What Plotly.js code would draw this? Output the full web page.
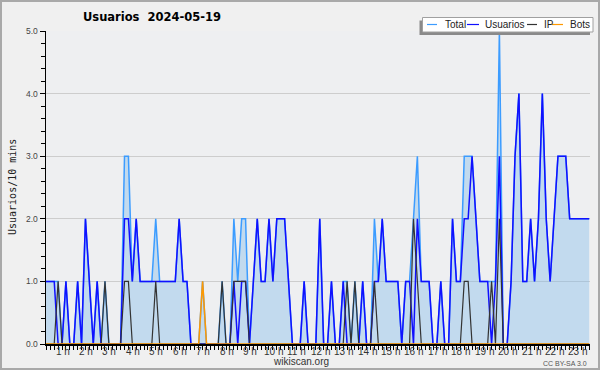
<!DOCTYPE html>
<html><head><meta charset="utf-8">
<script src="https://cdn.plot.ly/plotly-3.0.1.min.js"></script>
<style>
html,body{margin:0;padding:0;background:#f0f0f0;}
#wrap{position:relative;width:600px;height:370px;}
#chart{width:600px;height:370px;}
#frame{position:absolute;left:0;top:0;width:600px;height:370px;box-sizing:border-box;border:2px solid #a9a9a9;pointer-events:none;}
</style>
</head><body><div id="wrap"><div id="chart"></div><div id="frame"></div></div>
<script>
// 10-minute slots of 2024-05-19
const usuarios = [
 1,1,1,1,0,0,1,0,0,1,
 0,2,1,0,1,0,0,0,0,0,
 0,2,2,1,2,1,1,1,1,1,
 1,1,1,1,1,2,1,1,0,0,
 0,0,0,0,0,0,0,0,0,1,
 0,1,1,0,1,2,1,1,2,1,
 2,2,2,1,0,0,0,1,0,0,
 0,2,0,0,1,0,0,1,0,0,
 0,0,1,0,0,1,1,2,1,1,
 1,1,0,1,1,0,2,1,1,1,
 0,0,1,0,0,2,1,1,2,2,
 3,2,1,1,1,0,1,3,0,0,
 1,3,4,1,1,2,1,2,4,2,
 1,2,3,3,3,2,2,2,2,2,
 2];
const ip = [
 0,0,0,0,1,0,0,0,0,0,
 0,0,0,0,0,0,1,0,0,0,
 0,1,1,0,0,0,0,0,0,1,
 0,0,0,0,0,0,0,0,0,0,
 0,0,0,0,0,0,1,0,0,1,
 1,1,1,0,0,0,0,0,0,0,
 0,0,0,0,0,0,0,0,0,0,
 0,0,0,0,0,0,0,0,1,0,
 1,0,0,0,0,1,0,0,0,0,
 0,0,0,0,0,2,1,0,0,0,
 0,0,0,0,0,0,0,0,1,1,
 0,0,0,0,0,1,0,2,0,0,
 0,0,0,0,0,0,0,0,0,0,
 0,0,0,0,0,0,0,0,0,0,
 0];
const bots = [
 0,0,0,0,0,0,0,0,0,0,
 0,0,0,0,0,0,0,0,0,0,
 0,0,0,0,0,0,0,0,0,0,
 0,0,0,0,0,0,0,0,0,0,
 0,1,0,0,0,0,0,0,0,0,
 0,0,0,0,0,0,0,0,0,0,
 0,0,0,0,0,0,0,0,0,0,
 0,0,0,0,0,0,0,0,0,0,
 0,0,0,0,0,0,0,0,0,0,
 0,0,0,0,0,0,0,0,0,0,
 0,0,0,0,0,0,0,0,0,0,
 0,0,0,0,0,0,0,0,0,0,
 0,0,0,0,0,0,0,0,0,0,
 0,0,0,0,0,0,0,0,0,0,
 0];
const total = [
 1,1,1,1,1,0,1,0,0,1,
 0,2,1,0,1,0,1,0,0,0,
 0,3,3,1,2,1,1,1,1,2,
 1,1,1,1,1,2,1,1,0,0,
 0,1,0,0,0,0,1,0,0,2,
 1,2,2,0,1,2,1,1,2,1,
 2,2,2,1,0,0,0,1,0,0,
 0,2,0,0,1,0,0,1,1,0,
 1,0,1,0,0,2,1,2,1,1,
 1,1,0,1,1,2,3,1,1,1,
 0,0,1,0,0,2,1,1,3,3,
 3,2,1,1,1,1,1,5,0,0,
 1,3,4,1,1,2,1,2,4,2,
 1,2,3,3,3,2,2,2,2,2,
 2];
const hours = [1,2,3,4,5,6,7,8,9,10,11,12,13,14,15,16,17,18,19,20,21,22,23];
const hourLabels = hours.map(h => h + ' h');
const yTickVals = [0,1,2,3,4,5];
const yTickText = ['0.0','1.0','2.0','3.0','4.0','5.0'];
const seriesNames = ['Total','Usuarios','IP','Bots'];
const seriesColors = ['#3c9cff','#1010ff','#333333','#ff9900'];

const slots = usuarios.map((_, i) => i);

// layout geometry (pixels)
const W = 600, H = 370, L = 46, R = 590, T = 31, B = 344;
const px = x => (x - L) / (R - L);
const py = y => (B - y) / (B - T);

const traces = [
  {x: slots, y: total, name: 'Total', type: 'scatter', mode: 'lines',
   line: {color: seriesColors[0], width: 1.5}, fill: 'tozeroy', fillcolor: 'rgba(124,185,235,0.38)'},
  {x: slots, y: usuarios, name: 'Usuarios', type: 'scatter', mode: 'lines',
   line: {color: seriesColors[1], width: 1.5}},
  {x: slots, y: ip, name: 'IP', type: 'scatter', mode: 'lines',
   line: {color: seriesColors[2], width: 1.2}},
  {x: slots, y: bots, name: 'Bots', type: 'scatter', mode: 'lines',
   line: {color: seriesColors[3], width: 1.5}}
];

const annotations = [];
hours.forEach((h, i) => {
  annotations.push({xref: 'x', yref: 'paper', x: h * 6 - 0.87, y: py(351),
    text: hourLabels[i], showarrow: false, xanchor: 'center', yanchor: 'middle',
    font: {family: 'Liberation Sans, Arial, sans-serif', size: 10, color: '#333'}});
});
annotations.push({xref: 'paper', yref: 'paper', x: px(12), y: py(187), text: 'Usuarios/10 mins',
  textangle: -90, showarrow: false, xanchor: 'center', yanchor: 'middle',
  font: {family: 'DejaVu Sans Mono, monospace', size: 10, color: '#222'}});
annotations.push({xref: 'paper', yref: 'paper', x: px(301), y: py(361.5), text: 'wikiscan.org',
  showarrow: false, xanchor: 'center', yanchor: 'middle',
  font: {family: 'Liberation Sans, Arial, sans-serif', size: 10, color: '#333'}});
annotations.push({xref: 'paper', yref: 'paper', x: px(589), y: py(363), text: 'CC BY-SA 3.0',
  showarrow: false, xanchor: 'right', yanchor: 'middle',
  font: {family: 'Liberation Sans, Arial, sans-serif', size: 7, color: '#555'}});

// custom legend
const shapes = [
  {type: 'rect', xref: 'paper', yref: 'paper', x0: px(419.5), x1: px(590), y0: py(20.5), y1: py(35),
   fillcolor: '#8a8a8a', line: {width: 0}, layer: 'above'},
  {type: 'rect', xref: 'paper', yref: 'paper', x0: px(422.5), x1: px(593), y0: py(17.5), y1: py(32),
   fillcolor: '#ffffff', line: {color: '#a0a0a0', width: 1}, layer: 'above'}
];
const legLineX = [[427,437],[467,479],[527,537],[552,563]];
const legTextX = [442.5,482.5,541.5,567.5];
seriesNames.forEach((n, i) => {
  shapes.push({type: 'line', xref: 'paper', yref: 'paper', x0: px(legLineX[i][0]), x1: px(legLineX[i][1]),
    y0: py(24.5), y1: py(24.5), line: {color: seriesColors[i], width: 1.2}, layer: 'above'});
  annotations.push({xref: 'paper', yref: 'paper', x: px(legTextX[i]), y: py(24.5), text: n,
    showarrow: false, xanchor: 'left', yanchor: 'middle',
    font: {family: 'Liberation Sans, Arial, sans-serif', size: 10, color: '#222'}});
});

const layout = {
  width: W, height: H,
  margin: {l: L, r: W - R, t: T, b: H - B, pad: 0},
  paper_bgcolor: '#f0f0f0', plot_bgcolor: '#eeeff1',
  showlegend: false,
  title: {text: 'Usuarios  2024-05-19', x: 152 / W, xanchor: 'center', xref: 'container',
    y: 1 - 17 / H, yanchor: 'middle', yref: 'container',
    font: {family: 'DejaVu Sans, sans-serif', size: 11.5, color: '#000', weight: 'bold'}},
  xaxis: {range: [(L - 42.5) / 3.905, (R - 42.5) / 3.905], showgrid: false, zeroline: false,
    showline: true, linecolor: '#000', linewidth: 1.5,
    tickmode: 'linear', tick0: 0, dtick: 1, ticks: 'outside', ticklen: 4, tickwidth: 1, tickcolor: '#000',
    showticklabels: false, fixedrange: true},
  yaxis: {range: [0, 5], tickmode: 'array', tickvals: yTickVals, ticktext: yTickText,
    ticks: 'outside', ticklen: 5, tickwidth: 1, tickcolor: '#000',
    minor: {tickmode: 'linear', tick0: 0, dtick: 0.2, ticks: 'outside', ticklen: 4, tickcolor: '#000', showgrid: false},
    showgrid: true, gridcolor: '#cdcdcd', gridwidth: 1, zeroline: false,
    showline: true, linecolor: '#000', linewidth: 1.5,
    tickfont: {family: 'Liberation Sans, Arial, sans-serif', size: 8.5, color: '#444'}, fixedrange: true},
  annotations: annotations,
  shapes: shapes
};

Plotly.newPlot('chart', traces, layout, {displayModeBar: false, staticPlot: true});
</script>
</body></html>
